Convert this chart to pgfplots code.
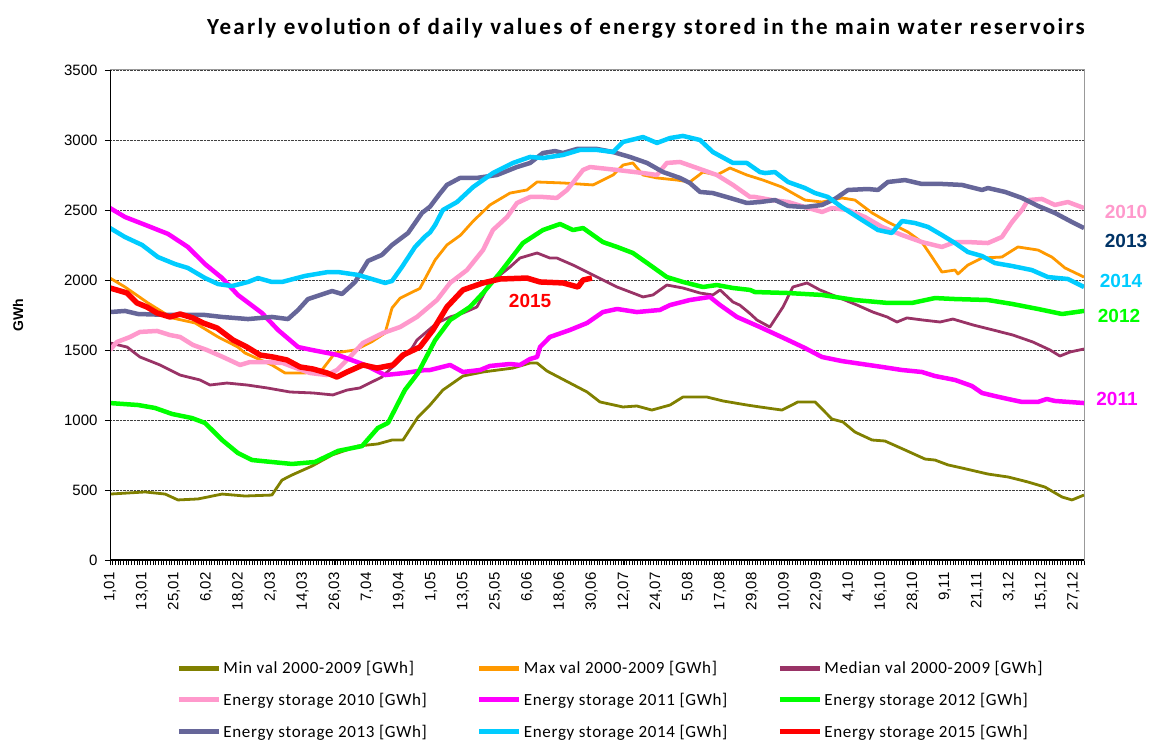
\documentclass[border=0pt]{standalone}
\usepackage{fontspec}
\setmainfont{Liberation Sans}
\newfontfamily\calibri{Carlito}
\newfontfamily\calibrititle{Carlito}[LetterSpace=10]
\newfontfamily\calibrileg{Carlito}[LetterSpace=4]
\usepackage{pgfplots}
\pgfplotsset{compat=1.18}
\definecolor{cmin}{HTML}{808000}
\definecolor{cmax}{HTML}{FF9900}
\definecolor{cmed}{HTML}{993366}
\definecolor{c10}{HTML}{FF99CC}
\definecolor{c11}{HTML}{FF00FF}
\definecolor{c12}{HTML}{00FF00}
\definecolor{c13}{HTML}{666699}
\definecolor{c13t}{HTML}{003366}
\definecolor{c14}{HTML}{00CCFF}
\definecolor{c15}{HTML}{FF0000}
\begin{document}
\begin{tikzpicture}[x=1pt,y=1pt]
\path[use as bounding box] (0,0) rectangle (1149,742);
\node[font=\calibrititle\bfseries\fontsize{23}{26}\selectfont] at (646,714) {Yearly evolution of daily values of energy stored in the main water reservoirs};
\node[rotate=90,font=\bfseries\fontsize{14}{16}\selectfont] at (18,427) {GWh};
\begin{axis}[
  at={(110pt,182pt)}, anchor=south west,
  scale only axis, width=974pt, height=490pt,
  xmin=1, xmax=365, ymin=0, ymax=3500,
  ytick={0,500,...,3500},
  xtick={1,13,...,361},
  xticklabels={{1,01},{13,01},{25,01},{6,02},{18,02},{2,03},{14,03},{26,03},{7,04},{19,04},{1,05},{13,05},{25,05},{6,06},{18,06},{30,06},{12,07},{24,07},{5,08},{17,08},{29,08},{10,09},{22,09},{4,10},{16,10},{28,10},{9,11},{21,11},{3,12},{15,12},{27,12}},
  minor xtick={1,2,...,365},
  tick align=outside, tickpos=left,
  major tick length=5pt, minor tick length=5pt,
  every tick/.style={black, line width=0.6pt},
  minor tick style={black, line width=0.5pt},
  x tick label style={rotate=90, anchor=east, font=\fontsize{15}{15}\selectfont, xshift=-4pt},
  y tick label style={font=\fontsize{15}{15}\selectfont, xshift=-4pt},
  /pgf/number format/assume math mode=true,
  /pgf/number format/1000 sep={},
  ymajorgrids, major grid style={densely dotted, black!75, line width=0.8pt},
  axis line style={gray!80, line width=1pt},
  legend columns=3,
  legend cell align=left,
  legend style={at={(0.068,-0.202)}, anchor=north west, draw=none, fill=none, inner sep=0pt,
    font=\calibrileg\fontsize{17}{19}\selectfont, row sep=14pt,
    /tikz/every even column/.append style={column sep=48pt}},
  legend image code/.code={\draw[#1,line width=5pt] (0pt,0pt) -- (40pt,0pt);},
  every axis plot/.append style={line join=round},
]
\addplot[cmin, line width=2.8pt] coordinates {(1,471) (14.1,486) (21.6,471) (26.4,429) (33.9,436) (42.9,471) (51.4,457) (61.5,464) (65.3,571) (69,607) (76.5,671) (84,750) (93.7,814) (101.1,829) (106.4,857) (110.5,857) (116.1,1021) (120.6,1107) (125.4,1214) (132.9,1314) (140.4,1343) (151.6,1371) (158,1407) (160.6,1407) (164.3,1350) (172.9,1264) (179.3,1200) (184.1,1129) (192.7,1093) (197.9,1100) (203.5,1071) (210.3,1107) (215.1,1164) (224.1,1164) (230.1,1136) (239,1107) (243.9,1093) (252.1,1071) (258.1,1129) (264.5,1129) (270.8,1007) (274.9,986) (279.4,914) (285.8,857) (290.6,850) (298.1,786) (305.6,721) (309.3,714) (314.2,679) (319.4,657) (329.1,614) (336.6,593) (344.1,557) (350.4,521) (356.8,450) (360.5,429) (365,464)};
\addlegendentry{Min val 2000-2009 [GWh]}
\addplot[cmax, line width=2.8pt] coordinates {(1,2014) (6.6,1950) (15.2,1836) (24.2,1729) (32.8,1693) (41.4,1593) (48.8,1521) (51.4,1479) (61.5,1393) (66.4,1336) (73.9,1336) (80.2,1357) (85.1,1479) (92.6,1500) (98.9,1560) (103.8,1621) (106.4,1800) (109.4,1870) (116.8,1940) (122.5,2143) (126.9,2250) (132,2320) (136.7,2420) (143,2536) (150.5,2621) (156.8,2643) (160.6,2700) (170.3,2693) (181.5,2679) (189,2750) (192.7,2821) (196.4,2836) (200.2,2750) (205.4,2729) (212.9,2714) (217.7,2700) (222.6,2771) (227.8,2750) (232.7,2800) (239,2750) (245,2714) (252.1,2664) (260.7,2571) (267.1,2557) (274.5,2586) (279.4,2571) (285.8,2479) (291.7,2414) (299.2,2343) (304.4,2271) (308.2,2164) (311.9,2057) (316.8,2071) (317.9,2043) (321.6,2107) (326.9,2157) (334.3,2164) (340.3,2236) (347.8,2214) (353,2164) (357.9,2086) (365,2021)};
\addlegendentry{Max val 2000-2009 [GWh]}
\addplot[cmed, line width=2.8pt] coordinates {(1,1550) (7.4,1521) (12.2,1450) (19.7,1393) (27.2,1321) (34.6,1286) (38.4,1250) (44.7,1264) (52.2,1250) (59.7,1229) (68.3,1200) (76.9,1193) (84.3,1179) (89.6,1214) (94.4,1229) (102.6,1307) (108.6,1414) (113.9,1514) (115.7,1571) (123.2,1693) (128.1,1736) (132.9,1764) (138.1,1807) (143,1979) (150.5,2093) (154.2,2157) (160.6,2193) (165.4,2157) (168,2157) (174,2107) (179.3,2057) (185.2,2000) (190.5,1950) (196.4,1907) (200.2,1879) (203.9,1893) (209.1,1964) (215.1,1943) (221.5,1907) (226.3,1893) (229,1929) (233.8,1843) (236.4,1820) (240.2,1760) (242.8,1714) (247.6,1664) (252.5,1807) (256.2,1950) (261.5,1979) (266.3,1929) (273.8,1871) (280.2,1821) (286.1,1771) (291.4,1736) (295.1,1700) (298.8,1729) (304.8,1714) (311.2,1700) (316,1721) (323.5,1679) (331,1643) (338.4,1607) (345.9,1557) (352.3,1500) (356,1457) (359.8,1486) (365,1507)};
\addlegendentry{Median val 2000-2009 [GWh]}
\addplot[c10, line width=4.5pt] coordinates {(1,1500) (3.6,1557) (8.5,1593) (12.2,1629) (18.6,1636) (23.4,1607) (27.2,1593) (32,1536) (37.2,1500) (43.2,1450) (49.6,1393) (53.3,1414) (59.7,1414) (65.6,1407) (69.4,1379) (75.7,1336) (82.1,1321) (85.8,1357) (90.7,1450) (95.5,1550) (103,1621) (109.4,1664) (115.7,1736) (123.2,1857) (128.1,1979) (134.4,2071) (140.4,2214) (144.1,2357) (149.4,2450) (153.1,2550) (158,2593) (162.8,2593) (168,2586) (171.8,2643) (177.8,2786) (180.4,2807) (190.5,2786) (200.2,2764) (205.4,2750) (209.1,2836) (214,2843) (220.4,2800) (227.8,2750) (233.8,2679) (240.2,2593) (242,2593) (248.4,2571) (254.4,2557) (260.7,2521) (267.1,2486) (270.8,2514) (276.8,2500) (283.1,2450) (289.5,2379) (297,2321) (304.4,2271) (311.9,2236) (316.8,2271) (321.6,2271) (329.1,2264) (334.3,2307) (338.1,2414) (341.8,2500) (344.1,2571) (349.3,2579) (354.1,2536) (359,2557) (365,2514)};
\addlegendentry{Energy storage 2010 [GWh]}
\addplot[c11, line width=4.5pt] coordinates {(1,2514) (6.6,2450) (15.2,2386) (22.7,2329) (30.1,2236) (36.5,2114) (42.9,2014) (48.8,1893) (57.8,1764) (63.8,1643) (71.3,1521) (76.5,1500) (86.2,1464) (96.3,1393) (103.8,1321) (111.2,1336) (118.7,1357) (120.6,1357) (128.1,1393) (132.9,1343) (139.3,1357) (143,1386) (150.5,1400) (154.2,1393) (158,1436) (160.6,1450) (161.7,1521) (165.4,1593) (172.9,1643) (179.3,1693) (185.2,1771) (190.5,1793) (197.9,1771) (206.5,1786) (210.3,1821) (217.7,1857) (225.2,1879) (229,1821) (235.3,1736) (243.9,1664) (254.4,1571) (260.7,1514) (267.1,1450) (274.5,1421) (282,1400) (289.5,1379) (297,1357) (304.4,1343) (309.3,1314) (316.8,1286) (323.1,1243) (326.9,1193) (331.7,1171) (336.6,1150) (341.8,1129) (347.8,1129) (351.1,1150) (354.1,1136) (365,1121)};
\addlegendentry{Energy storage 2011 [GWh]}
\addplot[c12, line width=4.5pt] coordinates {(1,1121) (11.5,1107) (17.8,1086) (24.2,1043) (31.6,1014) (36.5,979) (42.9,857) (48.8,764) (54.1,714) (61.5,700) (69,686) (77.6,700) (86.2,779) (95.2,814) (101.1,943) (104.9,979) (111.2,1214) (116.1,1336) (122.5,1570) (128.1,1714) (135.5,1807) (140.4,1907) (146.7,2050) (155.3,2264) (162.8,2357) (169.2,2400) (174,2357) (177.8,2371) (185.2,2271) (190.5,2236) (196.4,2193) (202.8,2107) (209.1,2021) (215.1,1986) (222.6,1950) (227.8,1964) (233.8,1943) (240.2,1929) (242,1914) (254.4,1907) (267.1,1893) (279.4,1857) (291.7,1836) (300.7,1836) (309.3,1871) (316.8,1864) (329.1,1857) (338.1,1829) (347.8,1793) (356.8,1757) (365,1779)};
\addlegendentry{Energy storage 2012 [GWh]}
\addplot[c13, line width=4.5pt] coordinates {(1,1771) (6.6,1779) (11.5,1757) (24.2,1750) (36.5,1750) (42.9,1736) (52.6,1721) (61.5,1736) (67.5,1721) (71.3,1786) (75,1864) (84,1921) (87.7,1900) (92.6,1986) (97.4,2136) (102.6,2179) (106.4,2250) (112.4,2336) (117.6,2479) (120.6,2524) (124,2610) (126.9,2679) (131.8,2729) (138.1,2729) (145.6,2750) (153.1,2807) (158,2836) (162.8,2907) (167.3,2921) (170.3,2907) (175.5,2936) (183,2936) (189,2914) (195.3,2879) (201.7,2836) (207.7,2771) (214,2729) (217.7,2693) (221.5,2629) (226.3,2621) (232.7,2586) (239,2550) (243.9,2557) (249.5,2571) (254.4,2529) (260.7,2521) (267.1,2536) (271.9,2579) (276.8,2643) (284.3,2650) (288,2643) (291.7,2700) (298.1,2714) (304.4,2686) (311.9,2686) (319.4,2679) (326.9,2643) (329.1,2657) (335.5,2629) (341.8,2586) (347.8,2529) (354.1,2479) (360.5,2414) (365,2371)};
\addlegendentry{Energy storage 2013 [GWh]}
\addplot[c14, line width=4.5pt] coordinates {(1,2371) (6.6,2307) (13,2250) (18.9,2164) (25.3,2114) (30.1,2086) (36.5,2014) (41.4,1971) (46.6,1957) (52.6,1986) (56.3,2014) (61.5,1986) (65.3,1986) (73.9,2029) (82.5,2057) (86.2,2057) (93.7,2036) (98.9,2007) (103.8,1979) (106.4,1993) (110.1,2093) (115,2236) (118.7,2310) (120.6,2340) (122.5,2393) (125.4,2500) (130.7,2557) (136.7,2664) (144.1,2764) (151.6,2836) (158,2879) (162.8,2871) (170.3,2893) (176.6,2929) (183,2929) (189,2914) (192.7,2986) (200.2,3021) (205.4,2979) (210.3,3014) (215.1,3029) (221.5,3000) (226.3,2914) (233.8,2836) (239,2836) (243.9,2771) (245.8,2764) (249.5,2771) (254.4,2700) (260.7,2657) (264.5,2621) (269.3,2593) (274.5,2521) (282,2429) (288,2357) (293.2,2336) (297,2421) (301.8,2407) (306.7,2379) (311.9,2321) (316.8,2264) (321.6,2200) (326.9,2171) (331.7,2121) (338.1,2100) (345.5,2071) (351.5,2021) (359,2007) (365,1950)};
\addlegendentry{Energy storage 2014 [GWh]}
\addplot[c15, line width=5.5pt] coordinates {(1,1943) (7.4,1907) (11.1,1836) (14.8,1807) (18.6,1764) (23.4,1736) (27.2,1757) (32,1729) (35.8,1693) (41,1657) (47,1571) (52.2,1521) (57.1,1464) (61.9,1450) (67.1,1429) (72,1379) (76.9,1364) (82.1,1336) (85.8,1307) (89.6,1343) (95.5,1393) (100.8,1371) (106.8,1393) (110.5,1464) (116.8,1521) (121.7,1643) (126.9,1807) (132.9,1929) (140.4,1979) (146.7,2007) (156.8,2014) (161.7,1986) (170.3,1979) (175.9,1950) (177.8,2000) (181.1,2014)};
\addlegendentry{Energy storage 2015 [GWh]}
\node[c15, font=\bfseries\fontsize{19}{19}\selectfont] at (axis cs:158,1850) {2015};
\draw[black, line width=1.2pt] (rel axis cs:0,1) -- (rel axis cs:0,0) -- (rel axis cs:1,0);
\end{axis}
\begin{scope}[font=\bfseries\fontsize{19}{19}\selectfont]
\node[c10] at (1126,530) {2010};
\node[c13t] at (1126,501) {2013};
\node[c14] at (1121,461) {2014};
\node[c12] at (1119,426) {2012};
\node[c11] at (1117,343) {2011};
\end{scope}
\end{tikzpicture}
\end{document}
